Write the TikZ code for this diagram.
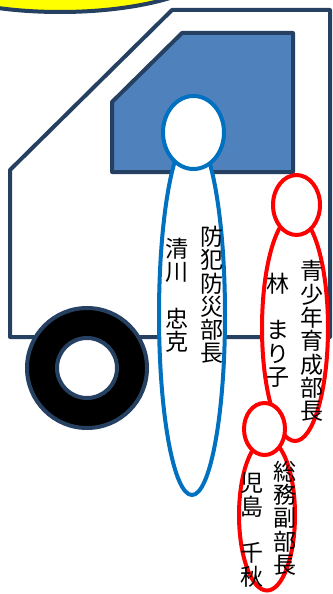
\documentclass[tikz,border=0pt]{standalone}
\usepackage{fontspec}
\usetikzlibrary{shapes.geometric}
\newfontfamily\jpfont{Noto Sans CJK JP}
\definecolor{colT}{RGB}{38,64,97}
\definecolor{colW}{RGB}{79,129,189}
\definecolor{colP}{RGB}{0,112,192}
\definecolor{colR}{RGB}{255,0,0}
\definecolor{colY}{RGB}{255,255,0}
\tikzstyle{truck}=[line width=4pt,draw=colT,line join=round]
\tikzstyle{person}=[ellipse,draw,fill=white,line width=4pt,inner sep=0pt]
\tikzstyle{bperson}=[person,draw=colP]
\tikzstyle{rperson}=[person,draw=colR]
\tikzstyle{vtext}=[align=center,inner sep=0pt,text=black,font=\jpfont\fontsize{23}{23.3}\selectfont]

\begin{document}
\begin{tikzpicture}[x=1pt,y=-1pt]
		\useasboundingbox (0,0) rectangle (332,594);
		\clip (0,0) rectangle (332,594);
		% truck
		\draw[truck,fill=white] (10,170) -- (172,10) -- (330,10) -- (330,337) -- (10,337) -- cycle;
		\draw[truck,fill=colW] (112,102) -- (182,33) -- (293,33) -- (293,172) -- (112,172) -- cycle;
		\draw[truck,fill=black] (87,368) circle (60pt);
		\draw[truck,fill=white] (87,368) circle (30pt);
		\draw[truck,fill=colY] (60,-40) ellipse [x radius=161pt, y radius=52pt];
		% people
		\node[bperson,minimum width=66pt,minimum height=360pt] (kbody) at (192,315) {};
		\node[bperson,minimum width=61pt,minimum height=73pt] (khead) at (193.5,132.5) {};
		\node[rperson,minimum width=66pt,minimum height=226pt] (hbody) at (295,328) {};
		\node[rperson,minimum width=47pt,minimum height=60pt] (hhead) at (296.5,205) {};
		\node[rperson,minimum width=56pt,minimum height=151pt] (cbody) at (267,515) {};
		\node[rperson,minimum width=41pt,minimum height=52pt] (chead) at (264.5,429) {};
		% names
		\node[vtext] (kpost) at (212,295) {防\\犯\\防\\災\\部\\長};
		\node[vtext] (kname) at (177,295) {清\\川\\　\\忠\\克};
		\node[vtext] (hpost) at (312,341) {青\\少\\年\\育\\成\\部\\長};
		\node[vtext] (hname) at (278,330) {林\\　\\ま\\り\\子};
		\node[vtext] (cpost) at (285,518) {総\\務\\副\\部\\長};
		\node[vtext] (cname) at (252,530) {児\\島\\　\\千\\秋};
	\end{tikzpicture}
\end{document}
